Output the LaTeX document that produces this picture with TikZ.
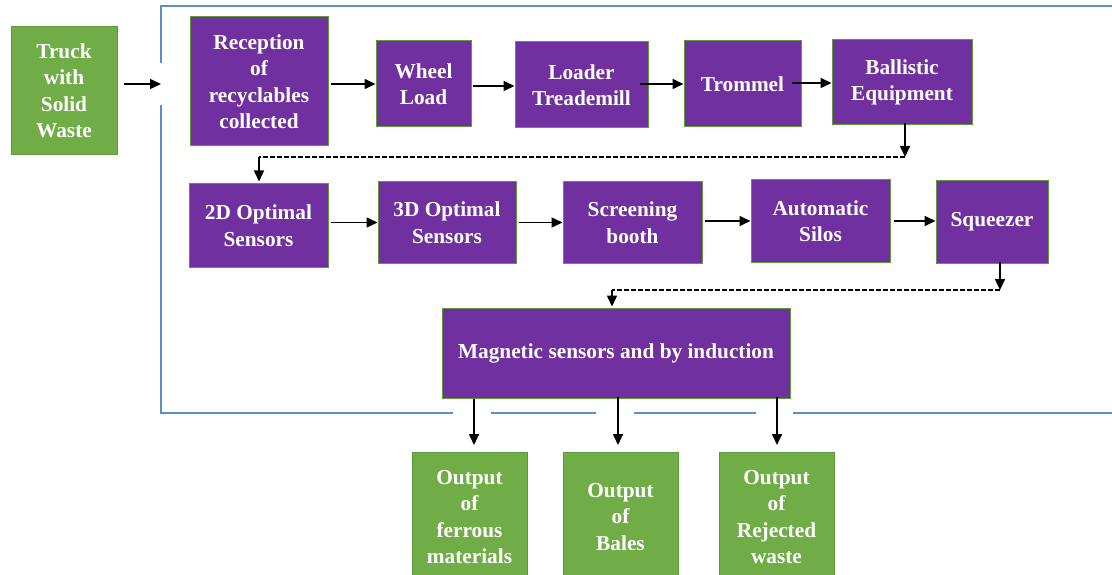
\documentclass[tikz,border=0pt]{standalone}
\usepackage{fontspec}
\setmainfont{Liberation Serif}
\usetikzlibrary{arrows.meta}
\definecolor{boxpurple}{HTML}{7030A0}
\definecolor{boxgreen}{HTML}{70AD47}
\definecolor{edgegreen}{HTML}{5E9A3A}
\definecolor{frameblue}{HTML}{5B8FC7}
\tikzset{
  base/.style={draw=edgegreen, line width=1pt, text=white, align=center, inner sep=2pt,
    font=\bfseries\fontsize{21.3}{26.5}\selectfont},
  pbox/.style={base, fill=boxpurple},
  gbox/.style={base, fill=boxgreen},
  arr/.style={line width=1.6pt, -{Triangle[length=11pt,width=10pt]}},
  dline/.style={line width=1.1pt, dash pattern=on 5pt off 2pt},
  frame/.style={draw=frameblue, line width=1.4pt}
}
\begin{document}
\begin{tikzpicture}[x=1pt,y=-1pt]
\useasboundingbox (0,0) rectangle (1112,575);
% frame
\draw[frame] (161,63) -- (161,6) -- (1113,6);
\draw[frame] (161,105) -- (161,413) -- (453,413);
\draw[frame] (491,413) -- (596,413);
\draw[frame] (634,413) -- (756,413);
\draw[frame] (793,413) -- (1113,413);
% nodes
\node[gbox, minimum width=106, minimum height=128] (truck) at (64,91) {Truck\\with\\Solid\\Waste};
\node[pbox, minimum width=138, minimum height=129] (rec) at (259,81.5) {Reception\\of\\recyclables\\collected};
\node[pbox, minimum width=95, minimum height=86] (wheel) at (423.5,84) {Wheel\\Load};
\node[pbox, minimum width=133, minimum height=86] (loader) at (581.5,85) {Loader\\Treademill};
\node[pbox, minimum width=117, minimum height=86] (trommel) at (742.5,84) {Trommel};
\node[pbox, minimum width=140, minimum height=85] (ball) at (902,82.5) {Ballistic\\Equipment};
\node[pbox, minimum width=139, minimum height=83] (td) at (258.5,225.5) {2D Optimal\\Sensors};
\node[pbox, minimum width=138, minimum height=81] (thd) at (447,222.5) {3D Optimal\\Sensors};
\node[pbox, minimum width=139, minimum height=81] (scr) at (632.5,222.5) {Screening\\booth};
\node[pbox, minimum width=139, minimum height=82] (silo) at (820.5,221) {Automatic\\Silos};
\node[pbox, minimum width=112, minimum height=82] (sq) at (992,222) {Squeezer};
\node[pbox, minimum width=348, minimum height=90] (mag) at (616,353) {Magnetic sensors and by induction};
\node[gbox, minimum width=115, minimum height=130] (fer) at (469.5,517) {Output\\of\\ferrous\\materials};
\node[gbox, minimum width=115, minimum height=130] (bal) at (620.5,517) {Output\\of\\Bales};
\node[gbox, minimum width=115, minimum height=130] (rej) at (776.5,517) {Output\\of\\Rejected\\waste};
% connectors
\coordinate (fin) at (161,84);
\draw[arr] ([xshift=6pt]truck.east |- fin) -- (fin);
\draw[arr] ([xshift=2pt]rec.east |- wheel.west) -- (wheel.west);
\draw[arr] ([xshift=1pt,yshift=-2pt]wheel.east) -- ([yshift=-2pt]loader.west |- wheel.east);
\draw[arr] ([xshift=-9pt]loader.east |- trommel.west) -- (trommel.west);
\draw[arr] ([xshift=-10pt,yshift=1pt]trommel.east) -- ([yshift=1pt]ball.west |- trommel.east);
% dashed link row 1 -> row 2
\coordinate (d1) at (905,157);
\coordinate (d2) at (259,157);
\draw[arr] ([yshift=2pt]ball.south -| d1) -- (d1);
\draw[dline] (d1) -- (d2);
\draw[arr, shorten >=2pt] (d2) -- (d2 |- td.north);
% row 2
\draw[arr] ([xshift=2pt]td.east |- thd.west) -- (thd.west);
\draw[arr] ([xshift=2pt]thd.east) -- (scr.west |- thd.east);
\draw[arr] ([xshift=2pt]scr.east |- silo.west) -- (silo.west);
\draw[arr] ([xshift=3pt]silo.east) -- (sq.west |- silo.east);
% dashed link row 2 -> magnetic
\coordinate (d3) at (1000,290);
\coordinate (d4) at (612,290);
\draw[arr] ([yshift=2pt]sq.south -| d3) -- (d3);
\draw[dline] (d3) -- (d4);
\draw[arr, shorten >=1pt] (d4) -- (d4 |- mag.north);
% outputs
\draw[arr, shorten >=7pt] (mag.south -| 474,0) -- (474,452);
\draw[arr, shorten >=7pt] ([yshift=2pt]mag.south -| 618,0) -- (618,452);
\draw[arr, shorten >=7pt] ([yshift=2pt]mag.south -| 777,0) -- (777,452);
\end{tikzpicture}
\end{document}
